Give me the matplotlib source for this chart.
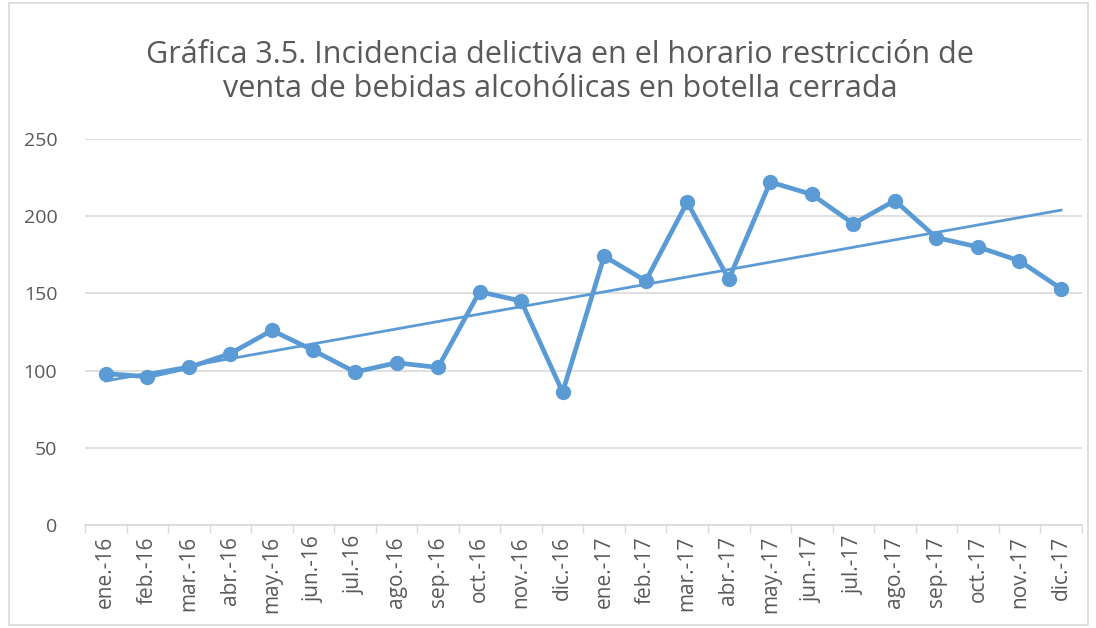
import numpy as np
import matplotlib.pyplot as plt
from matplotlib.patches import Rectangle

months = ['ene.-16', 'feb.-16', 'mar.-16', 'abr.-16', 'may.-16', 'jun.-16',
          'jul.-16', 'ago.-16', 'sep.-16', 'oct.-16', 'nov.-16', 'dic.-16',
          'ene.-17', 'feb.-17', 'mar.-17', 'abr.-17', 'may.-17', 'jun.-17',
          'jul.-17', 'ago.-17', 'sep.-17', 'oct.-17', 'nov.-17', 'dic.-17']
incidencia = [98, 96, 102, 111, 126, 113, 99, 105, 102, 151, 145, 86,
              174, 158, 209, 159, 222, 214, 195, 210, 186, 180, 171, 153]
y_ticks = [0, 50, 100, 150, 200, 250]

plt.rcParams['font.family'] = ['Open Sans', 'DejaVu Sans']
azul = '#5B9BD5'
gris = '#595959'

fig = plt.figure(figsize=(10.96, 6.28), dpi=100)
ax = fig.add_axes([0.0776, 0.164, 0.9094, 0.615])

x = np.arange(len(months))
ax.plot(x, incidencia, color=azul, lw=3.4, marker='o', ms=10, zorder=3,
        solid_joinstyle='round')

# linea de tendencia lineal
m, b = np.polyfit(x, incidencia, 1)
ax.plot(x, m * x + b, color=azul, lw=2, zorder=2)

ax.set_xlim(-0.5, len(months) - 0.5)
ax.set_ylim(0, 250)
ax.set_yticks(y_ticks)
ax.set_xticks(x)
ax.set_xticklabels(months, rotation=90)
ax.set_xticks(np.arange(-0.5, len(months)), minor=True)
ax.tick_params(axis='x', which='major', length=0, pad=8, labelsize=15, labelcolor=gris)
ax.tick_params(axis='x', which='minor', length=6, color='#D9D9D9', width=1)
ax.tick_params(axis='y', length=0, pad=20, labelsize=14, labelcolor=gris)
ax.grid(axis='y', color='#D9D9D9', lw=1.2)
ax.set_axisbelow(True)
for s in ['top', 'right', 'left']:
    ax.spines[s].set_visible(False)
ax.spines['bottom'].set_color('#D9D9D9')
ax.spines['bottom'].set_linewidth(1.2)

fig.text(0.511, 0.885, 'Gráfica 3.5. Incidencia delictiva en el horario restricción de\n'
         'venta de bebidas alcohólicas en botella cerrada',
         ha='center', va='center', fontsize=22, color=gris, linespacing=1.15)

fig.patches.append(Rectangle((0.008, 0.005), 0.985, 0.99, transform=fig.transFigure,
                             fill=False, edgecolor='#D9D9D9', lw=1.2))

fig.savefig('out.png', dpi=100)
